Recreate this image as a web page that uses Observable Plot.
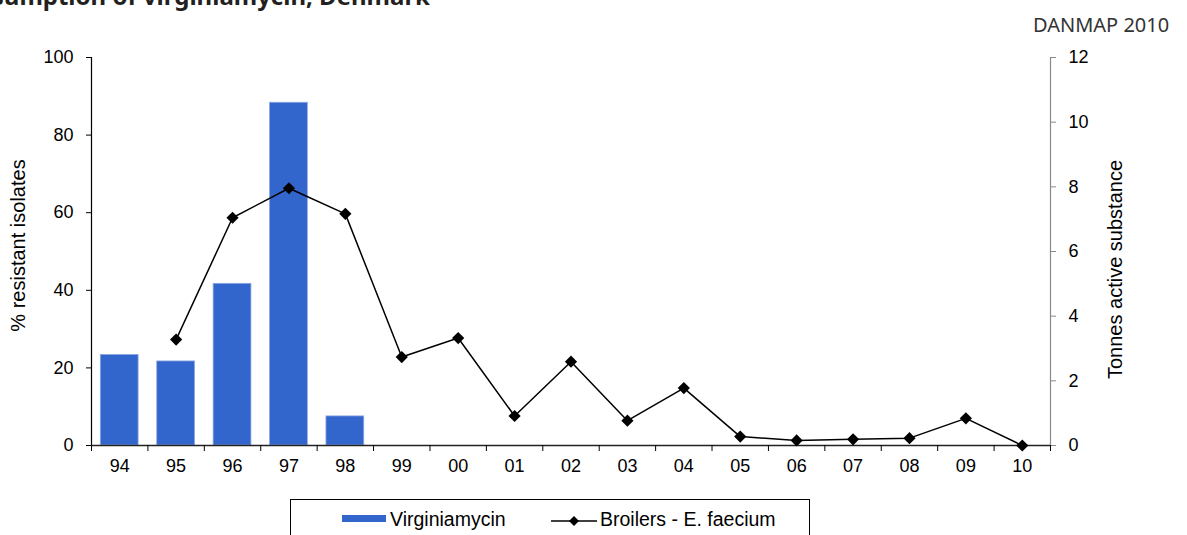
<!DOCTYPE html>
<html><head><meta charset="utf-8">
<script src="https://cdn.jsdelivr.net/npm/d3@7"></script>
<script src="https://cdn.jsdelivr.net/npm/@observablehq/plot@0.6"></script>
<style>
body{margin:0;background:#fff;}
#wrap{position:relative;width:1187px;height:535px;overflow:hidden;font-family:"Liberation Sans",Arial,sans-serif;}
#title{position:absolute;right:757px;top:-18px;white-space:nowrap;font:bold 24px "Noto Sans";line-height:28px;color:#231f20;}
#source{position:absolute;left:1033px;top:12px;font:20px "Noto Sans";line-height:26px;color:#333;}
#chart{position:absolute;left:0;top:0;}
#legend{position:absolute;left:290px;top:499px;width:520px;height:60px;border:1px solid #000;box-sizing:border-box;background:#fff;font-size:19.5px;}
#legend .sw{position:absolute;left:51px;top:15px;width:44px;height:7px;background:#3366cc;}
#legend .t1{position:absolute;left:99px;top:7px;line-height:24px;}
#legend svg{position:absolute;left:260px;top:11px;}
#legend .t2{position:absolute;left:309px;top:7px;line-height:24px;}
</style></head>
<body>
<div id="wrap">
  <div id="title">Figure 4.5. Streptogramin resistance among Enterococcus faecium from broilers and the consumption of virginiamycin, Denmark</div>
  <div id="source">DANMAP 2010</div>
  <div id="chart"></div>
  <div id="legend">
    <div class="sw"></div><div class="t1">Virginiamycin</div>
    <svg width="46" height="20"><line x1="0" y1="10" x2="46" y2="10" stroke="#000" stroke-width="1.5"/><path d="M23,5 L28,10 L23,15 L18,10 Z" fill="#000"/></svg>
    <div class="t2">Broilers - E. faecium</div>
  </div>
</div>
<script>
const years = [1994,1995,1996,1997,1998,1999,2000,2001,2002,2003,2004,2005,2006,2007,2008,2009,2010];
const yearLabels = ["94","95","96","97","98","99","00","01","02","03","04","05","06","07","08","09","10"];
const virginiamycinTonnes = [2.8,2.6,5.0,10.6,0.9,null,null,null,null,null,null,null,null,null,null,null,null];
const broilersEfaeciumPct = [null,27.3,58.7,66.3,59.7,22.8,27.7,7.6,21.6,6.4,14.8,2.3,1.3,1.6,1.9,7.0,0];
const leftTicks = [0,20,40,60,80,100];
const rightTicks = [0,2,4,6,8,10,12];

const pctMax = 100, tonnesMax = 12;
const k = pctMax / tonnesMax;
const rows = years.map((year, i) => ({year, label: yearLabels[i], tonnes: virginiamycinTonnes[i], pct: broilersEfaeciumPct[i]}));
const first = years[0] - 0.5, last = years[years.length - 1] + 0.5;
const boundaries = [...years.map(y => y - 0.5), last];

const chart = Plot.plot({
  width: 1187, height: 535,
  marginLeft: 91, marginRight: 137, marginTop: 57, marginBottom: 90,
  style: {fontFamily: '"Liberation Sans", Arial, sans-serif', fontSize: "18px", color: "#000", background: "transparent"},
  x: {type: "linear", domain: [first, last], axis: null},
  y: {domain: [0, pctMax], axis: null},
  marks: [
    Plot.rectY(rows.filter(d => d.tonnes != null), {x1: d => d.year - 0.335, x2: d => d.year + 0.335, y1: 0, y2: d => d.tonnes * k, fill: "#3366cc", stroke: "#8ea8e2", strokeWidth: 0.8}),
    Plot.ruleX([first], {stroke: "#000", strokeWidth: 1.2}),
    Plot.ruleX([last], {stroke: "#8a8a8a", strokeWidth: 1.2}),
    Plot.ruleY([0], {stroke: "#222", strokeWidth: 1.5}),
    Plot.axisY({anchor: "left", ticks: leftTicks, tickSize: 5, tickPadding: 13, fontSize: 18, label: null}),
    Plot.axisY({anchor: "right", ticks: rightTicks.map(t => t * k), tickFormat: v => String(Math.round(v / k)), tickSize: 5, tickPadding: 13, fontSize: 18, label: null, stroke: "#8a8a8a", fill: "#000"}),
    Plot.axisX({ticks: boundaries, tickSize: 6, tickFormat: () => "", label: null}),
    Plot.axisX({ticks: years, tickSize: 0, tickPadding: 14, tickFormat: y => yearLabels[years.indexOf(y)], fontSize: 18, label: null}),
    Plot.line(rows, {x: "year", y: "pct", stroke: "#000", strokeWidth: 1.5}),
    Plot.dot(rows.filter(d => d.pct != null), {x: "year", y: "pct", symbol: "diamond2", r: 5.5, fill: "#000", stroke: "none"}),
    Plot.text(["% resistant isolates"], {frameAnchor: "left", textAnchor: "middle", rotate: -90, dx: -73, dy: -6, fontSize: 20}),
    Plot.text(["Tonnes active substance"], {frameAnchor: "right", textAnchor: "middle", rotate: -90, dx: 65, dy: 18, fontSize: 20})
  ]
});
document.getElementById("chart").appendChild(chart);
</script>
</body></html>
